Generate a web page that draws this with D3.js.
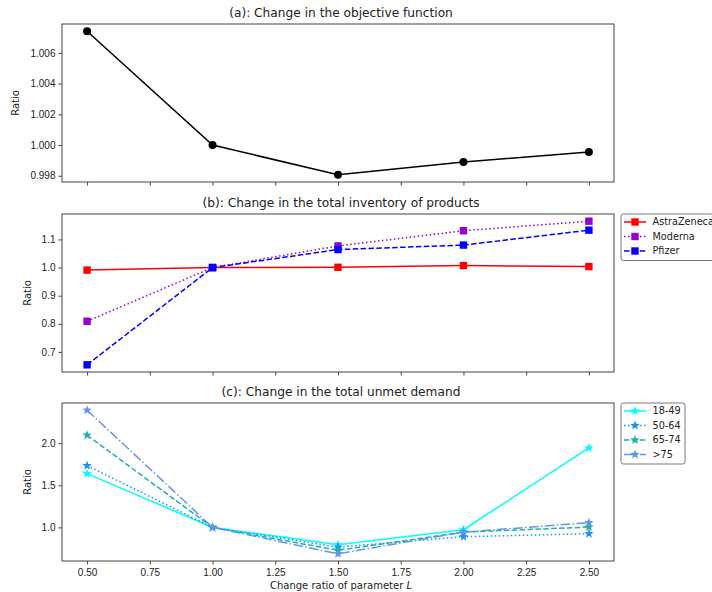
<!DOCTYPE html>
<html>
<head>
<meta charset="utf-8">
<script src="https://cdn.jsdelivr.net/npm/d3@7"></script>
<style>
  body { margin: 0; background: #fff; }
  svg { display: block; font-family: "DejaVu Sans", sans-serif; }
  .tick text { font-size: 10px; fill: #222; }
  .domain { stroke: none; }
  .tick line { stroke: #444; }
</style>
</head>
<body>
<svg id="chart" width="712" height="592"></svg>
<script>
// x values shared by all three panels
var ratios = [0.5, 1.0, 1.5, 2.0, 2.5]
var xTicks = [0.5, 0.75, 1.0, 1.25, 1.5, 1.75, 2.0, 2.25, 2.5]

// (a) objective function
var objective = [1.00741, 1.0, 0.99806, 0.99889, 0.99954]
var objTicks = [0.998, 1.000, 1.002, 1.004, 1.006]

// (b) inventory of products
var products = ["AstraZeneca", "Moderna", "Pfizer"]
var astraZeneca = [0.991, 1.0, 1.001, 1.007, 1.0035]
var moderna = [0.809, 1.0, 1.077, 1.131, 1.165]
var pfizer = [0.654, 1.0, 1.064, 1.080, 1.133]
var invTicks = [0.7, 0.8, 0.9, 1.0, 1.1]

// (c) unmet demand by age group
var ageGroups = ["18-49", "50-64", "65-74", ">75"]
var age18_49 = [1.639, 1.0, 0.794, 0.972, 1.944]
var age50_64 = [1.734, 1.0, 0.766, 0.889, 0.925]
var age65_74 = [2.095, 1.0, 0.728, 0.944, 1.004]
var age75 = [2.393, 1.0, 0.686, 0.944, 1.056]
var unmetTicks = [1.0, 1.5, 2.0]

var svg = d3.select("#chart")
var left = 62, right = 614

var x = d3.scaleLinear().domain([0.4, 2.6]).range([left, right])

function padded(vals) {
    var ext = d3.extent(vals)
    var m = (ext[1] - ext[0]) * 0.05
    return [ext[0] - m, ext[1] + m]
}

function star(cx, cy, r) {
    var pts = []
    for (var i = 0; i < 10; i++) {
        var a = -Math.PI / 2 + i * Math.PI / 5
        var rr = i % 2 === 0 ? r : r * 0.42
        pts.push([cx + rr * Math.cos(a), cy + rr * Math.sin(a)])
    }
    return "M" + pts.map(function(p) { return p.join(",") }).join("L") + "Z"
}

function drawMarker(g, shape, cx, cy, color) {
    if (shape === "circle") {
        g.append("circle").attr("cx", cx).attr("cy", cy).attr("r", 4).attr("fill", color)
    } else if (shape === "square") {
        g.append("rect").attr("x", cx - 3.7).attr("y", cy - 3.7)
            .attr("width", 7.4).attr("height", 7.4).attr("fill", color)
    } else {
        g.append("path").attr("d", star(cx, cy, 5)).attr("fill", color)
    }
}

function panel(opts) {
    var y = d3.scaleLinear().domain(padded(d3.merge(opts.series.map(function(s) { return s.values })))).range([opts.bottom, opts.top])
    var g = svg.append("g")

    g.append("text")
        .attr("x", (left + right) / 2 + 3).attr("y", opts.top - 7)
        .attr("text-anchor", "middle").style("font-size", "12.2px").attr("fill", "#222")
        .text(opts.title)

    var xAxis = d3.axisBottom(x).tickValues(xTicks).tickSize(3.5).tickPadding(4)
        .tickFormat(opts.xLabels ? d3.format(".2f") : "")
    g.append("g").attr("transform", "translate(0," + opts.bottom + ")").call(xAxis)

    var yAxis = d3.axisLeft(y).tickValues(opts.yTicks).tickSize(3.5).tickPadding(3)
        .tickFormat(d3.format(opts.yFormat))
    g.append("g").attr("transform", "translate(" + left + ",0)").call(yAxis)

    g.append("text")
        .attr("transform", "translate(" + opts.yLabelX + "," + (opts.top + opts.bottom) / 2 + ") rotate(-90)")
        .attr("text-anchor", "middle").style("font-size", "10px").attr("fill", "#222")
        .text("Ratio")

    var line = d3.line().x(function(d, i) { return x(ratios[i]) }).y(function(d) { return y(d) })

    opts.series.forEach(function(s) {
        g.append("path").datum(s.values)
            .attr("d", line).attr("fill", "none")
            .attr("stroke", s.color).attr("stroke-width", 1.5)
            .attr("stroke-dasharray", s.dash || null)
        s.values.forEach(function(v, i) {
            drawMarker(g, s.marker, x(ratios[i]), y(v), s.color)
        })
    })

    g.append("rect")
        .attr("x", left).attr("y", opts.top)
        .attr("width", right - left).attr("height", opts.bottom - opts.top)
        .attr("fill", "none").attr("stroke", "#444").attr("stroke-width", 1)

    if (opts.legend) {
        var n = opts.series.length
        var lg = g.append("g")
        lg.append("rect")
            .attr("x", 621).attr("y", opts.top)
            .attr("width", opts.legendWidth).attr("height", 8 + (n - 1) * 14.5 + 9.5)
            .attr("rx", 2.5).attr("fill", "#fff").attr("stroke", "#777").attr("stroke-width", 1)
        opts.series.forEach(function(s, i) {
            var ly = opts.top + 8 + i * 14.5
            lg.append("line")
                .attr("x1", 624).attr("x2", 646).attr("y1", ly).attr("y2", ly)
                .attr("stroke", s.color).attr("stroke-width", 1.5)
                .attr("stroke-dasharray", s.dash || null)
            drawMarker(lg, s.marker, 635, ly, s.color)
            lg.append("text")
                .attr("x", 652.5).attr("y", ly).attr("dy", "0.35em")
                .style("font-size", "9.7px").attr("fill", "#222")
                .text(s.name)
        })
    }

    if (opts.xLabels) {
        g.append("text")
            .attr("x", (left + right) / 2 + 3).attr("y", 589)
            .attr("text-anchor", "middle").style("font-size", "10px").attr("fill", "#222")
            .html("Change ratio of parameter <tspan font-style=\"italic\">L</tspan>")
    }
}

panel({
    title: "(a): Change in the objective function",
    top: 24, bottom: 182, yTicks: objTicks, yFormat: ".3f", yLabelX: 19,
    series: [{ name: "objective", values: objective, color: "#000", marker: "circle" }]
})

panel({
    title: "(b): Change in the total inventory of products",
    top: 214, bottom: 372, yTicks: invTicks, yFormat: ".1f", yLabelX: 31, legend: true, legendWidth: 100,
    series: [
        { name: products[0], values: astraZeneca, color: "#ff0000", marker: "square" },
        { name: products[1], values: moderna, color: "#9400d3", marker: "square", dash: "1.5,2.5" },
        { name: products[2], values: pfizer, color: "#0000ff", marker: "square", dash: "5.5,2.4" }
    ]
})

panel({
    title: "(c): Change in the total unmet demand",
    top: 403, bottom: 561, yTicks: unmetTicks, yFormat: ".1f", yLabelX: 31, xLabels: true, legend: true, legendWidth: 64,
    series: [
        { name: ageGroups[0], values: age18_49, color: "#00ffff", marker: "star" },
        { name: ageGroups[1], values: age50_64, color: "#1e90ff", marker: "star", dash: "1.5,2.5" },
        { name: ageGroups[2], values: age65_74, color: "#20b2aa", marker: "star", dash: "5.5,2.4" },
        { name: ageGroups[3], values: age75, color: "#6495ed", marker: "star", dash: "9.6,2.4,1.5,2.4" }
    ]
})
</script>
</body>
</html>
